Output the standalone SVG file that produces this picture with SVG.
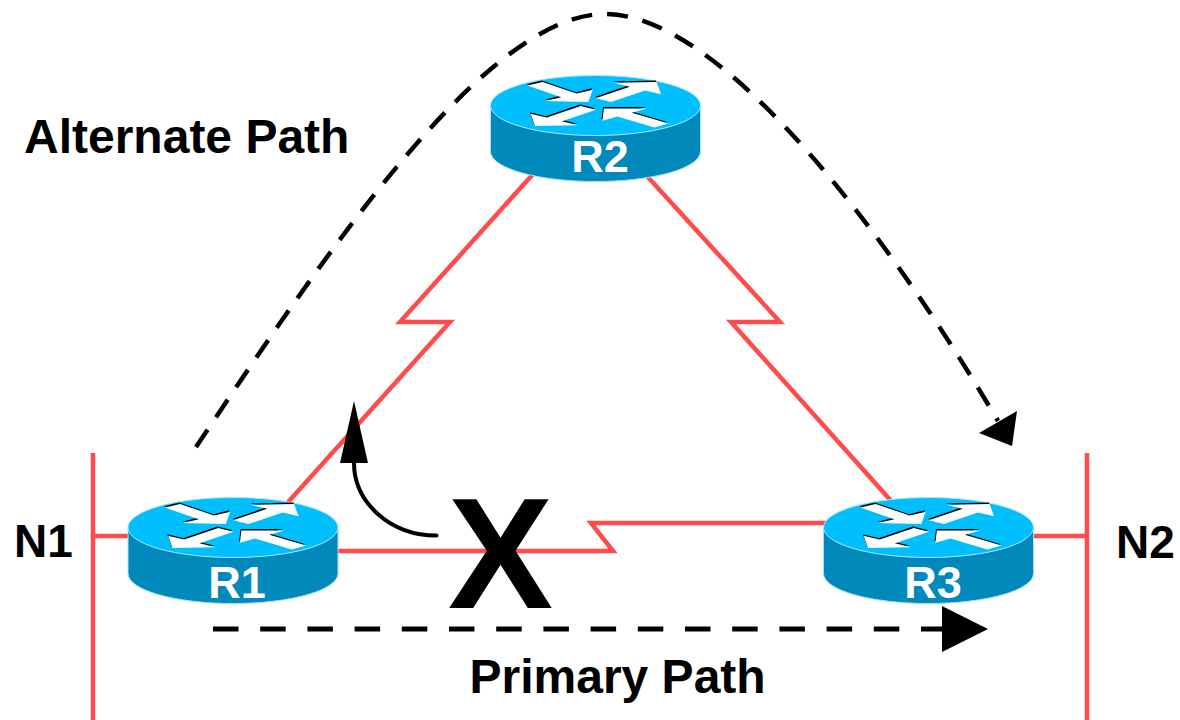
<svg xmlns="http://www.w3.org/2000/svg" xmlns:xlink="http://www.w3.org/1999/xlink" width="1180" height="720" viewBox="0 0 1180 720">
<style>
.link{fill:none;stroke:#FF4B4B;stroke-width:4.5;stroke-linejoin:miter;stroke-linecap:butt}
.lbl{font-family:"Liberation Sans",Arial,sans-serif;font-weight:bold;fill:#000}
.rl{font-family:"Liberation Sans",Arial,sans-serif;font-weight:bold;font-size:45px;fill:#fff;text-anchor:middle}
.dsh{fill:none;stroke:#000}
</style>
<defs>
<polygon id="arw" points="0,-10 53,-10 53,-31 83,0 53,31 53,10 0,10"/>
<g id="arrows">
 <use href="#arw" transform="translate(-60.5,-76) rotate(50.1)"/>
 <use href="#arw" transform="translate(7.8,-18.6) rotate(-50)"/>
 <use href="#arw" transform="translate(-7.1,8.1) rotate(130)"/>
 <use href="#arw" transform="translate(66,70) rotate(226)"/>
</g>
<g id="router">
 <path d="M-105,0 V46 A105,30 0 0 0 105,46 V0 Z" fill="#0089BA" stroke="#9FE3FA" stroke-width="1"/>
 <ellipse rx="105" ry="30" fill="#00BFFF" stroke="#A8E8FF" stroke-width="1"/>
 <g transform="translate(-0.8,-1.4) scale(1,0.286)" fill="#000"><use href="#arrows"/></g>
 <g transform="scale(1,0.286)" fill="#fff"><use href="#arrows"/></g>
</g>
</defs>
<rect width="1180" height="720" fill="#fff"/>
<g id="connectors">
 <path class="link" d="M93,453 V720"/>
 <path class="link" d="M1087,453 V720"/>
 <path class="link" d="M93,536 H135"/>
 <path class="link" d="M1025,536 H1087"/>
 <path class="link" d="M281,510 L450,322 L400,322 L534,173"/>
 <path class="link" d="M646,175 L780,322 L731,322 L893,503"/>
 <path class="link" d="M330,551 L613,551 L591,523 L830,523"/>
 <path class="dsh" d="M196,447 C324,256 485,14 605,14 C725,14 895,246 998,421" stroke-width="4.5" stroke-dasharray="21 15"/>
 <polygon points="979,433 1017,411 1012,446" fill="#000"/>
 <path class="dsh" d="M213,629 H942" stroke-width="5" stroke-dasharray="25.5 21.7"/>
 <polygon points="942,606 942,652 988,629" fill="#000"/>
 <path class="dsh" d="M436.5,535.5 C390.7,535.5 354,502.7 354,463" stroke-width="4" stroke-linecap="round"/>
 <polygon points="340,463 368,463 354,401" fill="#000"/>
</g>
<g id="R1"><use href="#router" transform="translate(233,527.5)"/><text class="rl" x="237" y="598">R1</text></g>
<g id="R2"><use href="#router" transform="translate(595.5,105.5)"/><text class="rl" x="600" y="172">R2</text></g>
<g id="R3"><use href="#router" transform="translate(928.5,527.5)"/><text class="rl" x="933" y="598">R3</text></g>
<g id="N1"><text class="lbl" x="14" y="557" font-size="46">N1</text></g>
<g id="N2"><text class="lbl" x="1116" y="558" font-size="46">N2</text></g>
<g id="failure"><text class="lbl" x="500.5" y="608" font-size="158" text-anchor="middle">X</text></g>
<g id="labels">
 <text class="lbl" x="24" y="153" font-size="48">Alternate Path</text>
 <text class="lbl" x="469.5" y="693" font-size="48">Primary Path</text>
</g>
</svg>
